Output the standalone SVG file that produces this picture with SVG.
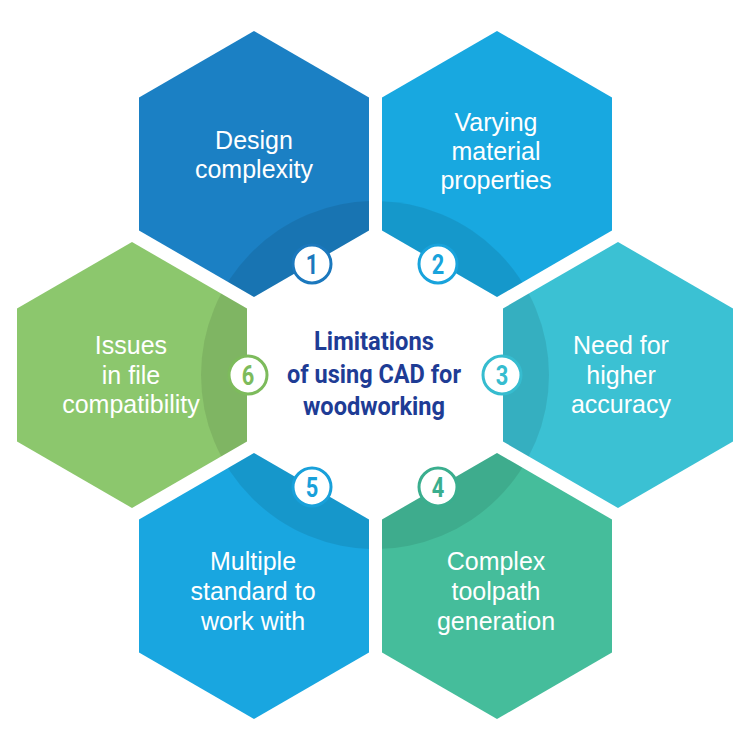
<svg xmlns="http://www.w3.org/2000/svg" xmlns:xlink="http://www.w3.org/1999/xlink" width="750" height="750" viewBox="0 0 750 750">
<style>
.lbl{font-family:"Liberation Sans",Arial,sans-serif;font-size:25px;fill:#ffffff;text-anchor:middle}
.num{font-family:Roboto,"Liberation Sans",sans-serif;font-weight:bold;font-size:28px;text-anchor:middle}
.badge{fill:#ffffff;stroke-width:3}
.shade{fill:#000000;fill-opacity:0.09}
.title{font-family:Roboto,"Liberation Sans",sans-serif;font-weight:bold;font-size:26px;fill:#1e3c95;text-anchor:middle}
</style>
<defs>
<polygon id="hex" points="0,-133 115,-66.5 115,66.5 0,133 -115,66.5 -115,-66.5"/>
<clipPath id="c1"><use xlink:href="#hex" x="254" y="164"/></clipPath>
<clipPath id="c2"><use xlink:href="#hex" x="497" y="164"/></clipPath>
<clipPath id="c3"><use xlink:href="#hex" x="618" y="375"/></clipPath>
<clipPath id="c4"><use xlink:href="#hex" x="497" y="586"/></clipPath>
<clipPath id="c5"><use xlink:href="#hex" x="254" y="586"/></clipPath>
<clipPath id="c6"><use xlink:href="#hex" x="132" y="375"/></clipPath>
</defs>
<rect width="750" height="750" fill="#ffffff"/>
<g id="node1">
<use xlink:href="#hex" x="254" y="164" fill="#1b80c4"/>
<circle cx="375" cy="375" r="174" class="shade" clip-path="url(#c1)"/>
<text class="lbl" x="254" y="149">Design</text>
<text class="lbl" x="254" y="178">complexity</text>
<circle cx="312" cy="264" r="19" class="badge" stroke="#1b78bd"/>
<text class="num" fill="#1b78bd" transform="translate(312,274) scale(0.78,1)">1</text>
</g>
<g id="node2">
<use xlink:href="#hex" x="497" y="164" fill="#18a8e0"/>
<circle cx="375" cy="375" r="174" class="shade" clip-path="url(#c2)"/>
<text class="lbl" x="496" y="131">Varying</text>
<text class="lbl" x="496" y="160">material</text>
<text class="lbl" x="496" y="189">properties</text>
<circle cx="438" cy="264" r="19" class="badge" stroke="#18a3dc"/>
<text class="num" fill="#18a3dc" transform="translate(438,274) scale(0.78,1)">2</text>
</g>
<g id="node3">
<use xlink:href="#hex" x="618" y="375" fill="#3bc1d3"/>
<circle cx="375" cy="375" r="174" class="shade" clip-path="url(#c3)"/>
<text class="lbl" x="621" y="354">Need for</text>
<text class="lbl" x="621" y="384">higher</text>
<text class="lbl" x="621" y="413">accuracy</text>
<circle cx="502" cy="375" r="19" class="badge" stroke="#36bccf"/>
<text class="num" fill="#36bccf" transform="translate(502,385) scale(0.78,1)">3</text>
</g>
<g id="node4">
<use xlink:href="#hex" x="497" y="586" fill="#45bd9b"/>
<circle cx="375" cy="375" r="174" class="shade" clip-path="url(#c4)"/>
<text class="lbl" x="496" y="570">Complex</text>
<text class="lbl" x="496" y="600">toolpath</text>
<text class="lbl" x="496" y="630">generation</text>
<circle cx="438" cy="487" r="19" class="badge" stroke="#3aae8e"/>
<text class="num" fill="#3aae8e" transform="translate(438,497) scale(0.78,1)">4</text>
</g>
<g id="node5">
<use xlink:href="#hex" x="254" y="586" fill="#19a6e0"/>
<circle cx="375" cy="375" r="174" class="shade" clip-path="url(#c5)"/>
<text class="lbl" x="253" y="570">Multiple</text>
<text class="lbl" x="253" y="600">standard to</text>
<text class="lbl" x="253" y="630">work with</text>
<circle cx="312" cy="487" r="19" class="badge" stroke="#18a0da"/>
<text class="num" fill="#18a0da" transform="translate(312,497) scale(0.78,1)">5</text>
</g>
<g id="node6">
<use xlink:href="#hex" x="132" y="375" fill="#8cc76d"/>
<circle cx="375" cy="375" r="174" class="shade" clip-path="url(#c6)"/>
<text class="lbl" x="131" y="354">Issues</text>
<text class="lbl" x="131" y="384">in file</text>
<text class="lbl" x="131" y="413">compatibility</text>
<circle cx="248" cy="375" r="19" class="badge" stroke="#7dbb5c"/>
<text class="num" fill="#7dbb5c" transform="translate(248,385) scale(0.78,1)">6</text>
</g>
<g id="center">
<text class="title" x="374" y="350" textLength="120" lengthAdjust="spacingAndGlyphs">Limitations</text>
<text class="title" x="374" y="383" textLength="174" lengthAdjust="spacingAndGlyphs">of using CAD for</text>
<text class="title" x="374" y="415" textLength="142" lengthAdjust="spacingAndGlyphs">woodworking</text>
</g>
<g id="connectors"/>
</svg>
